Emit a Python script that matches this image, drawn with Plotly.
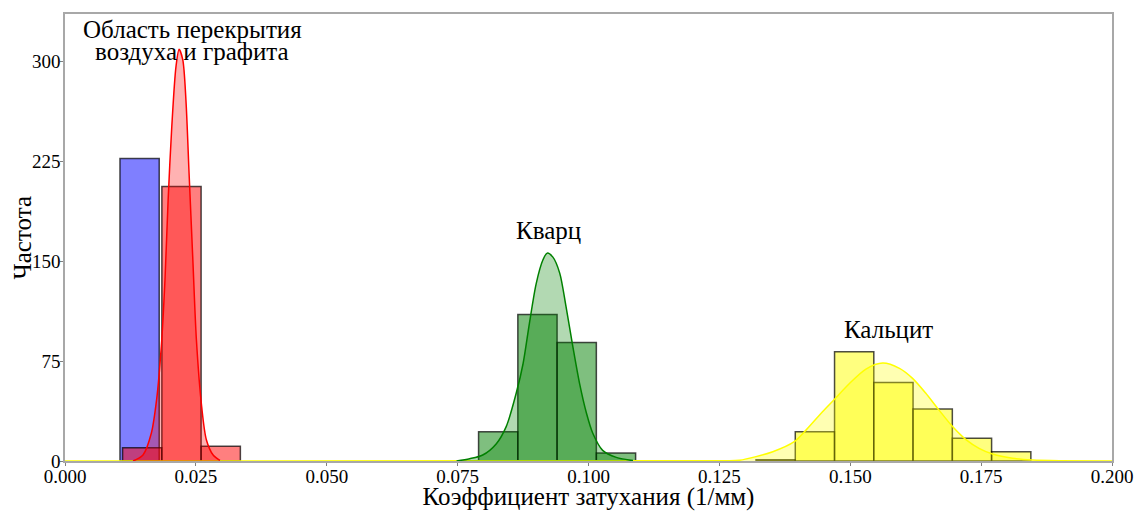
import plotly.graph_objects as go

# ---------------- data ----------------
bin_width = 0.0075

blue_left_edges = [0.0105]
blue_counts = [227]

red_left_edges = [0.0110, 0.0185, 0.0260]
red_counts = [10, 206, 11]

green_left_edges = [0.0790, 0.0865, 0.0940, 0.1015]
green_counts = [22, 110, 89, 6]

yellow_left_edges = [0.1320, 0.1395, 0.1470, 0.1545, 0.1620, 0.1695, 0.1770]
yellow_counts = [1, 22, 82, 59, 39, 17, 7]

red_kde_x = [0.0130, 0.0149, 0.0165, 0.0175, 0.0184, 0.0191, 0.0197, 0.0204, 0.0212,
             0.0218, 0.0225, 0.0231, 0.0237, 0.0244, 0.0251, 0.0261, 0.0270, 0.0283, 0.0296]
red_kde_y = [0, 4.5, 21, 46, 86, 136, 196, 251, 296, 309, 301, 271, 216, 153, 91, 41, 16, 4.5, 0.5]

green_kde_x = [0.0748, 0.0773, 0.0798, 0.0824, 0.0843, 0.0862, 0.0875, 0.0887, 0.0900, 0.0913,
               0.0921, 0.0932, 0.0945, 0.0957, 0.0970, 0.0983, 0.0996, 0.1008, 0.1027, 0.1053, 0.1085]
green_kde_y = [0, 1.7, 4.5, 13, 26, 51, 73, 103, 133, 151, 156, 153, 141, 116, 86, 58, 36, 21, 8, 2.7, 0.3]

yellow_kde_x = [0.0, 0.1250, 0.1288, 0.1352, 0.1393, 0.1415, 0.1447, 0.1469, 0.1498, 0.1530, 0.1562,
                0.1594, 0.1619, 0.1644, 0.1670, 0.1695, 0.1721, 0.1746, 0.1772, 0.1810, 0.1848, 0.1900, 0.2]
yellow_kde_y = [0, 0.2, 0.5, 7, 14.5, 23, 37, 46, 58, 69, 73.5, 69.5, 62, 51, 38, 26, 16, 9.5, 5.2, 2, 0.7, 0.2, 0]

x_ticks = [0.000, 0.025, 0.050, 0.075, 0.100, 0.125, 0.150, 0.175, 0.200]
y_ticks = [0, 75, 150, 225, 300]

x_title = "Коэффициент затухания (1/мм)"
y_title = "Частота"
label_overlap_1 = "Область перекрытия"
label_overlap_2 = "воздуха и графита"
label_quartz = "Кварц"
label_calcite = "Кальцит"

# ---------------- figure ----------------
FONT = "Liberation Serif, Times New Roman, serif"
EDGE = dict(color="rgba(0,0,0,0.7)", width=1.5)

fig = go.Figure()


def add_hist(edges, counts, fill):
    centers = [e + bin_width / 2 for e in edges]
    fig.add_trace(go.Bar(x=centers, y=counts, width=[bin_width] * len(edges),
                         marker=dict(color=fill, line=EDGE), showlegend=False,
                         hoverinfo="x+y"))


add_hist(blue_left_edges, blue_counts, "rgba(0,0,255,0.5)")
add_hist(red_left_edges, red_counts, "rgba(255,0,0,0.5)")
add_hist(green_left_edges, green_counts, "rgba(0,128,0,0.5)")
add_hist(yellow_left_edges, yellow_counts, "rgba(255,255,0,0.5)")


def add_kde(xs, ys, line_color, fill_color):
    fig.add_trace(go.Scatter(x=xs, y=ys, mode="lines", fill="tozeroy",
                             fillcolor=fill_color,
                             line=dict(color=line_color, width=1.5, shape="spline", smoothing=0.8),
                             showlegend=False))


add_kde(yellow_kde_x, yellow_kde_y, "rgb(255,255,0)", "rgba(255,255,0,0.3)")
add_kde(green_kde_x, green_kde_y, "rgb(0,128,0)", "rgba(0,128,0,0.3)")
add_kde(red_kde_x, red_kde_y, "rgb(255,0,0)", "rgba(255,0,0,0.3)")

ann_font = dict(family=FONT, size=25, color="black")
fig.add_annotation(x=0.0243, y=324, text=label_overlap_1, showarrow=False, font=ann_font,
                   xanchor="center", yanchor="middle")
fig.add_annotation(x=0.0243, y=307, text=label_overlap_2, showarrow=False, font=ann_font,
                   xanchor="center", yanchor="middle")
fig.add_annotation(x=0.0924, y=173, text=label_quartz, showarrow=False, font=ann_font,
                   xanchor="center", yanchor="middle")
fig.add_annotation(x=0.1573, y=99, text=label_calcite, showarrow=False, font=ann_font,
                   xanchor="center", yanchor="middle")
# y-axis title placed as rotated text left of the tick labels
fig.add_annotation(xref="paper", yref="paper", x=0, y=0.5, xshift=-43, text=y_title,
                   textangle=-90, showarrow=False, font=ann_font,
                   xanchor="center", yanchor="middle")

axis_common = dict(showline=True, linecolor="#a8a8a8", linewidth=1.5, mirror=True,
                   showgrid=False, zeroline=False, ticks="outside", ticklen=3,
                   tickcolor="#808080", tickwidth=1, automargin=False,
                   tickfont=dict(family=FONT, size=19, color="black"))

fig.update_xaxes(range=[0, 0.2], tickvals=x_ticks, ticktext=[f"{v:.3f}" for v in x_ticks],
                 ticklabelstandoff=-6,
                 title=dict(text=x_title, font=dict(family=FONT, size=25, color="black"), standoff=4),
                 **axis_common)
fig.update_yaxes(range=[0, 335.5], tickvals=y_ticks, ticktext=[str(v) for v in y_ticks],
                 ticklabelstandoff=-4, **axis_common)

fig.update_layout(width=1135, height=511, barmode="overlay",
                  margin=dict(l=65, r=23, t=14, b=50),
                  plot_bgcolor="white", paper_bgcolor="white",
                  font=dict(family=FONT, color="black"))

fig.write_html("out.html", config={"displayModeBar": False},
               post_script="document.body.style.margin='0';")
